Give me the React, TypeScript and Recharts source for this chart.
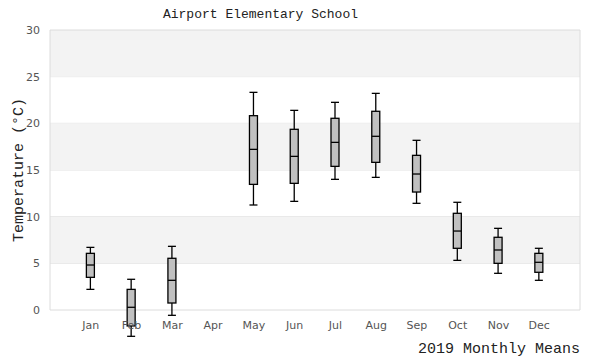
import { Bar, CartesianGrid, ComposedChart, ReferenceArea, XAxis, YAxis } from 'recharts'

const months = ['Jan', 'Feb', 'Mar', 'Apr', 'May', 'Jun', 'Jul', 'Aug', 'Sep', 'Oct', 'Nov', 'Dec']
// month index (1 = Jan); April has no readings
const monthIdx = [1, 2, 3, 5, 6, 7, 8, 9, 10, 11, 12]
const lows = [2.21, -2.82, -0.57, 11.25, 11.64, 14.0, 14.21, 11.43, 5.32, 3.93, 3.18]
const q1s = [3.5, -1.71, 0.75, 13.46, 13.57, 15.39, 15.82, 12.64, 6.61, 5.0, 4.04]
const medians = [4.82, 0.29, 3.18, 17.21, 16.46, 17.96, 18.61, 14.57, 8.46, 6.43, 5.11]
const q3s = [6.07, 2.21, 5.54, 20.82, 19.36, 20.54, 21.29, 16.57, 10.36, 7.79, 6.07]
const highs = [6.71, 3.29, 6.82, 23.32, 21.39, 22.25, 23.21, 18.18, 11.54, 8.75, 6.61]

const yTicks = [0, 5, 10, 15, 20, 25, 30]
const gridValues = [5, 10, 15, 20, 25]
const bands = [[5, 10], [15, 20], [25, 30]]

const data = monthIdx.map((m, i) => ({
  m,
  range: [lows[i], highs[i]],
  lo: lows[i],
  q1: q1s[i],
  med: medians[i],
  q3: q3s[i],
  hi: highs[i],
}))

const mono = '"Liberation Mono", "DejaVu Sans Mono", monospace'
const sans = '"DejaVu Sans", sans-serif'

function BoxShape(props: any) {
  const { x, y, width, height, payload } = props
  if (!payload) return null
  const top = Math.min(y, y + height)
  const h = Math.abs(height)
  const span = payload.hi - payload.lo
  const py = (v: number) => top + (h * (payload.hi - v)) / span
  const cx = x + width / 2
  const half = 4
  const stroke = { stroke: '#000', strokeWidth: 1.3 }
  return (
    <g>
      <line x1={cx} x2={cx} y1={py(payload.hi)} y2={py(payload.q3)} {...stroke} />
      <line x1={cx} x2={cx} y1={py(payload.q1)} y2={py(payload.lo)} {...stroke} />
      <line x1={cx - half} x2={cx + half} y1={py(payload.hi)} y2={py(payload.hi)} {...stroke} />
      <line x1={cx - half} x2={cx + half} y1={py(payload.lo)} y2={py(payload.lo)} {...stroke} />
      <rect
        x={cx - half}
        y={py(payload.q3)}
        width={half * 2}
        height={py(payload.q1) - py(payload.q3)}
        fill="#c0c0c0"
        {...stroke}
      />
      <line x1={cx - half} x2={cx + half} y1={py(payload.med)} y2={py(payload.med)} {...stroke} />
    </g>
  )
}

function MonthTick(props: any) {
  const { x, y, payload } = props
  return (
    <text x={x} y={y - 17} textAnchor="middle" fontFamily={sans} fontSize={11} fill="#555">
      {months[payload.value - 1]}
    </text>
  )
}

export default function App() {
  return (
    <div style={{ position: 'absolute', left: 0, top: 0, width: 600, height: 360, background: '#fff' }}>
      <div
        style={{
          position: 'absolute',
          left: 0,
          width: 521,
          top: 7,
          textAlign: 'center',
          fontFamily: mono,
          fontSize: 13,
          color: '#222',
        }}
      >
        Airport Elementary School
      </div>
      <ComposedChart
        width={600}
        height={360}
        data={data}
        margin={{ top: 30, right: 20, left: 0, bottom: 0 }}
      >
        {bands.map(([a, b]) => (
          <ReferenceArea key={a} y1={a} y2={b} fill="#f3f3f3" fillOpacity={1} stroke="none" />
        ))}
        <CartesianGrid vertical={false} horizontalValues={gridValues} stroke="#e2e2e2" />
        <ReferenceArea y1={0} y2={30} fill="none" stroke="#dcdcdc" strokeWidth={1} />
        <XAxis
          type="number"
          dataKey="m"
          domain={[0, 13]}
          ticks={[1, 2, 3, 4, 5, 6, 7, 8, 9, 10, 11, 12]}
          axisLine={false}
          tickLine={false}
          height={22}
          tick={<MonthTick />}
          label={{
            content: () => (
              <text x={580} y={353} textAnchor="end" fontFamily={mono} fontSize={15} fill="#222">
                2019 Monthly Means
              </text>
            ),
          }}
        />
        <YAxis
          type="number"
          domain={[-3, 30]}
          ticks={yTicks}
          axisLine={false}
          tickLine={false}
          width={50}
          tickMargin={4}
          tick={{ fontSize: 11, fill: '#555', fontFamily: sans }}
          label={{
            content: () => (
              <text
                x={23}
                y={170}
                transform="rotate(-90 23 170)"
                textAnchor="middle"
                fontFamily={mono}
                fontSize={15}
                fill="#222"
              >
                Temperature (°C)
              </text>
            ),
          }}
        />
        <Bar dataKey="range" barSize={8} shape={<BoxShape />} isAnimationActive={false} />
      </ComposedChart>
    </div>
  )
}
